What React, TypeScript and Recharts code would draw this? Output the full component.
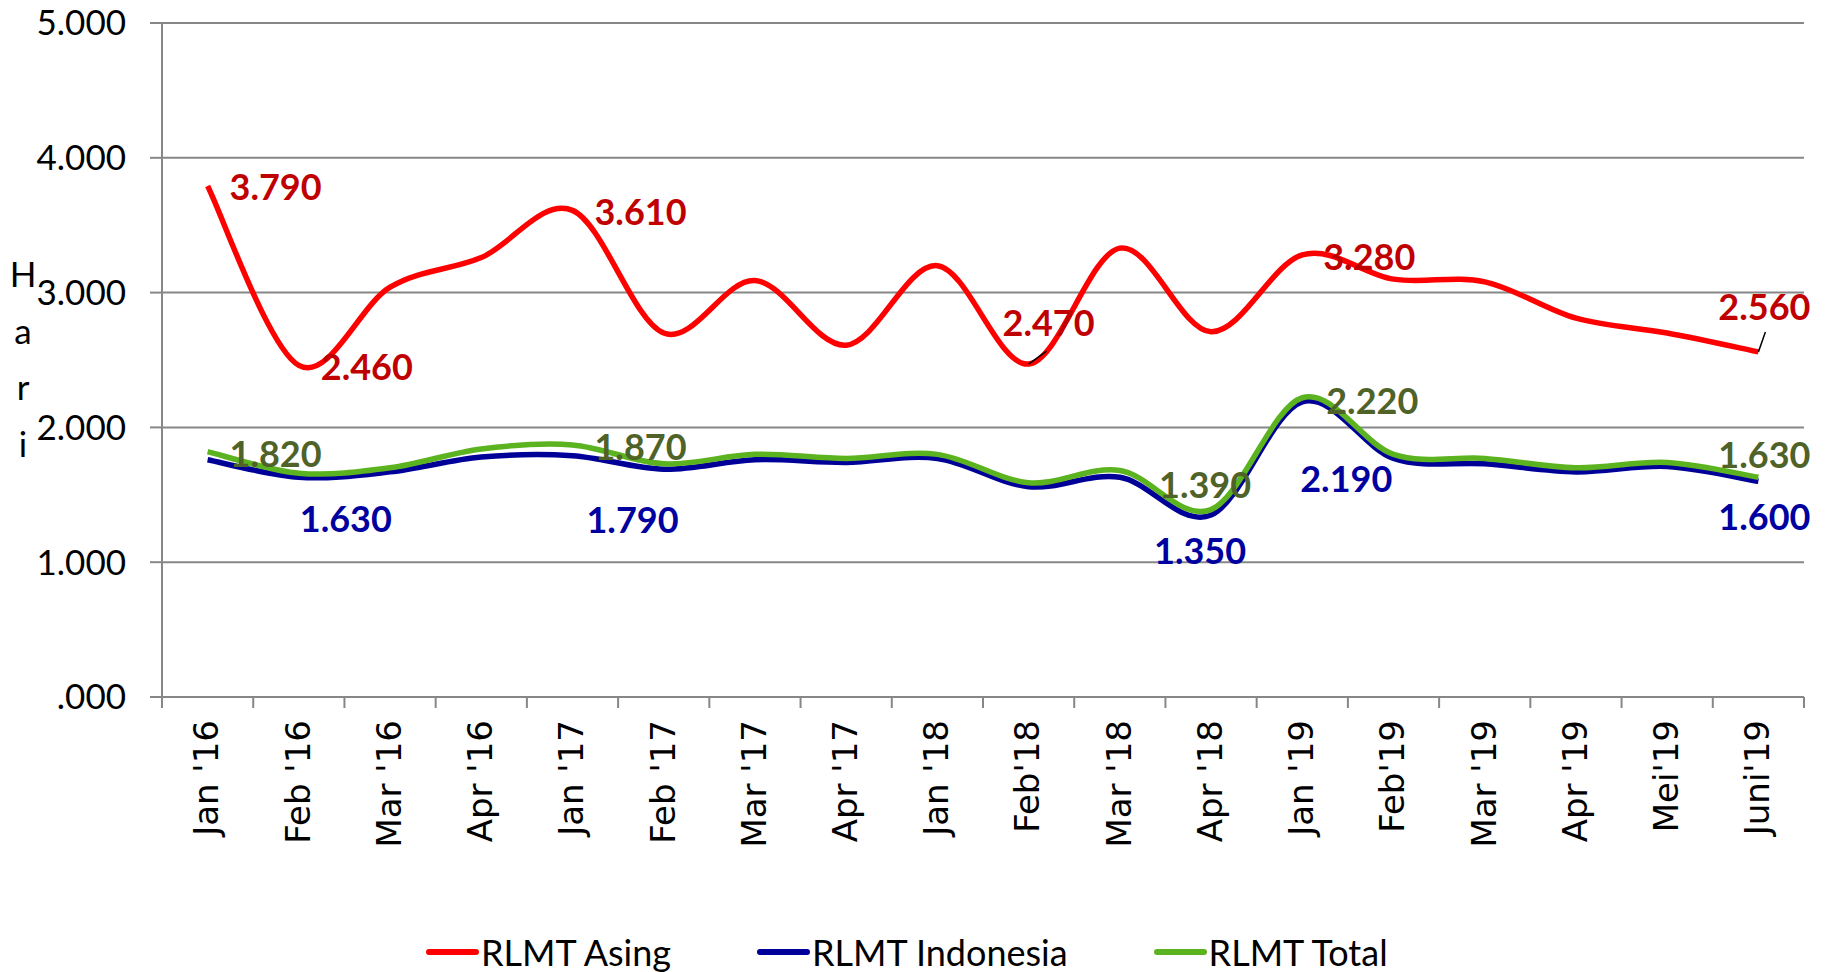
import React from 'react';
import {
  LineChart,
  Line,
  XAxis,
  YAxis,
  CartesianGrid,
  LabelList,
} from 'recharts';

const categories = [
  "Jan '16", "Feb '16", "Mar '16", "Apr '16",
  "Jan '17", "Feb '17", "Mar '17", "Apr '17",
  "Jan '18", "Feb'18", "Mar '18", "Apr '18",
  "Jan '19", "Feb'19", "Mar '19", "Apr '19", "Mei'19", "Juni'19",
];

const asing = [3790, 2460, 3040, 3260, 3610, 2700, 3090, 2610, 3200, 2470, 3330, 2710, 3280, 3100, 3080, 2810, 2700, 2560];
const indonesia = [1760, 1630, 1670, 1780, 1790, 1690, 1760, 1740, 1770, 1560, 1630, 1350, 2190, 1770, 1730, 1670, 1710, 1600];
const total = [1820, 1660, 1700, 1840, 1870, 1730, 1800, 1770, 1800, 1590, 1680, 1390, 2220, 1800, 1770, 1700, 1740, 1630];

const yTicks = [0, 1000, 2000, 3000, 4000, 5000];

const data = categories.map((name, i) => ({
  name,
  asing: asing[i],
  indonesia: indonesia[i],
  total: total[i],
}));

// which points get a value label, and where it sits relative to the point
const asingSpots: Record<number, number[]> = { 0: [68, 0], 1: [68, 1], 4: [68, 1], 9: [20, -42], 12: [67, 1], 17: [6, -46] };
const totalSpots: Record<number, number[]> = { 0: [68, 1], 4: [68, 1], 11: [-6, -26], 12: [70, 2], 17: [6, -23] };
const indoSpots: Record<number, number[]> = { 1: [47, 41], 4: [60, 63], 11: [-11, 35], 12: [44, 76], 17: [6, 35] };
const asingLeaders: Record<number, number[]> = { 9: [18, -13], 17: [7, -20] };

const W = 1831;
const H = 972;
const M = { top: 23, right: 27, left: 0, bottom: 0 };
const Y_W = 162;
const X_H = 275;
const halfBand = (W - M.left - M.right - Y_W) / categories.length / 2;

const calibri = 'Lato, "Open Sans", sans-serif';
const grid = '#878787';

const fmt = (v: number) => (v === 0 ? '.000' : (v / 1000).toFixed(3));

// Excel-like smoothed line (Catmull-Rom through every point)
const excelCurve = (context: any) => {
  let pts: number[][] = [];
  return {
    areaStart() {},
    areaEnd() {},
    lineStart() {
      pts = [];
    },
    point(x: number, y: number) {
      pts.push([+x, +y]);
    },
    lineEnd() {
      if (!pts.length) return;
      context.moveTo(pts[0][0], pts[0][1]);
      for (let i = 0; i < pts.length - 1; i++) {
        const p0 = pts[i - 1] || pts[i];
        const p1 = pts[i];
        const p2 = pts[i + 1];
        const p3 = pts[i + 2] || p2;
        context.bezierCurveTo(
          p1[0] + (p2[0] - p0[0]) / 6,
          p1[1] + (p2[1] - p0[1]) / 6,
          p2[0] - (p3[0] - p1[0]) / 6,
          p2[1] - (p3[1] - p1[1]) / 6,
          p2[0],
          p2[1]
        );
      }
    },
  };
};

const makeLabel =
  (color: string, spots: Record<number, number[]>, leaders: Record<number, number[]> = {}) =>
  (props: any) => {
    const { x, y, value, index } = props;
    const s = spots[index];
    if (!s) return null;
    const l = leaders[index];
    return (
      <g>
        {l && <line x1={x} y1={y} x2={x + l[0]} y2={y + l[1]} stroke="#000" strokeWidth={1.5} />}
        <text
          x={x + s[0]}
          y={y + s[1]}
          textAnchor="middle"
          dominantBaseline="central"
          fill={color}
          fontFamily={calibri}
          fontWeight={700}
          fontSize={36}
        >
          {fmt(value)}
        </text>
      </g>
    );
  };

const XTick = (props: any) => {
  const { x, y, payload, index } = props;
  const top = y - 8;
  return (
    <g>
      <line x1={x - halfBand} y1={top} x2={x - halfBand} y2={top + 11} stroke={grid} strokeWidth={2} />
      {index === categories.length - 1 && (
        <line x1={x + halfBand} y1={top} x2={x + halfBand} y2={top + 11} stroke={grid} strokeWidth={2} />
      )}
      <text
        x={x}
        y={top + 23}
        transform={`rotate(-90, ${x}, ${top + 23})`}
        textAnchor="end"
        dy="0.32em"
        fill="#000"
        fontFamily='"DejaVu Sans", sans-serif'
        fontSize={34}
      >
        {payload.value}
      </text>
    </g>
  );
};

const YTitle = (props: any) => {
  const vb = props.viewBox || { x: 0, y: 23, height: 675 };
  const cx = 23;
  const cy = vb.y + vb.height / 2 - 85;
  return (
    <text x={cx} y={cy} textAnchor="middle" fontFamily={calibri} fontSize={35} fill="#000">
      {['H', 'a', 'r', 'i'].map((c, i) => (
        <tspan key={i} x={cx} dy={i === 0 ? '0.35em' : 56.5}>
          {c}
        </tspan>
      ))}
    </text>
  );
};

const series = [
  { key: 'asing', name: 'RLMT Asing', color: '#FF0000' },
  { key: 'indonesia', name: 'RLMT Indonesia', color: '#000099' },
  { key: 'total', name: 'RLMT Total', color: '#5BB31F' },
];

export default function App() {
  return (
    <div style={{ position: 'absolute', left: 0, top: 0, width: W, height: H, background: '#fff' }}>
      <LineChart width={W} height={H} data={data} margin={M}>
        <CartesianGrid vertical={false} stroke={grid} strokeWidth={2} />
        <XAxis
          dataKey="name"
          height={X_H}
          interval={0}
          padding={{ left: halfBand, right: halfBand }}
          axisLine={{ stroke: grid, strokeWidth: 2 }}
          tickLine={false}
          tick={<XTick />}
        />
        <YAxis
          width={Y_W}
          domain={[0, 5000]}
          ticks={yTicks}
          tickFormatter={fmt}
          axisLine={{ stroke: grid, strokeWidth: 2 }}
          tickLine={{ stroke: grid, strokeWidth: 2 }}
          tickSize={12}
          tickMargin={24}
          tick={{ fill: '#000', fontFamily: calibri, fontSize: 35 }}
          label={<YTitle />}
        />
        <Line
          dataKey="asing"
          type={excelCurve as any}
          stroke="#FF0000"
          strokeWidth={5.5}
          dot={false}
          activeDot={false}
          isAnimationActive={false}
        >
          <LabelList dataKey="asing" content={makeLabel('#C00000', asingSpots, asingLeaders)} />
        </Line>
        <Line
          dataKey="indonesia"
          type={excelCurve as any}
          stroke="#000099"
          strokeWidth={5.5}
          dot={false}
          activeDot={false}
          isAnimationActive={false}
        >
          <LabelList dataKey="indonesia" content={makeLabel('#0000A0', indoSpots)} />
        </Line>
        <Line
          dataKey="total"
          type={excelCurve as any}
          stroke="#5BB31F"
          strokeWidth={5.5}
          dot={false}
          activeDot={false}
          isAnimationActive={false}
        >
          <LabelList dataKey="total" content={makeLabel('#4F6228', totalSpots)} />
        </Line>
      </LineChart>
      <div
        style={{
          position: 'absolute',
          left: 426,
          top: 930,
          display: 'flex',
          alignItems: 'center',
          gap: 86,
          fontFamily: calibri,
          fontSize: 36,
          lineHeight: '44px',
          color: '#000',
        }}
      >
        {series.map((s) => (
          <div key={s.key} style={{ display: 'flex', alignItems: 'center' }}>
            <span
              style={{
                display: 'inline-block',
                width: 53,
                height: 6,
                borderRadius: 3,
                background: s.color,
                marginRight: 2,
              }}
            />
            <span>{s.name}</span>
          </div>
        ))}
      </div>
    </div>
  );
}
